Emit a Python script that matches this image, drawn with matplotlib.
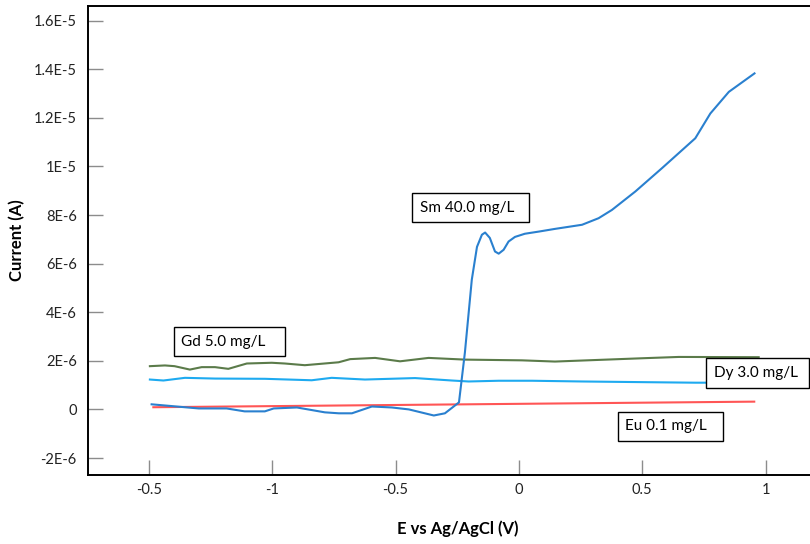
import matplotlib
matplotlib.use('Agg')
import matplotlib.pyplot as plt
from matplotlib import rcParams

rcParams.update({'font.family': ['Lato', 'DejaVu Sans'], 'font.size': 10})

# Potential positions (plot units) and current in A
sm_x = [-1.489, -1.298, -1.185, -1.112, -1.030, -0.994, -0.900, -0.787, -0.730,
        -0.677, -0.596, -0.515, -0.446, -0.345, -0.300, -0.243, -0.219, -0.191,
        -0.170, -0.150, -0.137, -0.118, -0.097, -0.082, -0.062, -0.042, -0.016,
        0.024, 0.081, 0.146, 0.256, 0.323, 0.377, 0.472, 0.580, 0.715, 0.776,
        0.851, 0.955]
sm_y = [0.21, 0.04, 0.04, -0.08, -0.08, 0.04, 0.08, -0.12, -0.16,
        -0.16, 0.12, 0.08, 0.0, -0.25, -0.16, 0.29, 2.34, 5.34,
        6.69, 7.19, 7.28, 7.06, 6.50, 6.41, 6.57, 6.91, 7.10,
        7.23, 7.32, 7.43, 7.60, 7.87, 8.21, 8.97, 9.93, 11.16, 12.18,
        13.07, 13.83]

gd_x = [-1.496, -1.435, -1.396, -1.334, -1.286, -1.232, -1.178, -1.103, -1.002,
        -0.949, -0.868, -0.731, -0.684, -0.583, -0.482, -0.366, -0.218, 0.012,
        0.146, 0.511, 0.648, 0.972]
gd_y = [1.78, 1.81, 1.78, 1.64, 1.74, 1.74, 1.67, 1.89, 1.92,
        1.89, 1.82, 1.94, 2.07, 2.12, 1.98, 2.12, 2.05, 2.02,
        1.97, 2.11, 2.16, 2.15]

dy_x = [-1.496, -1.441, -1.354, -1.232, -1.029, -0.840, -0.759, -0.624, -0.421,
        -0.272, -0.204, -0.082, 0.053, 0.256, 0.526, 0.715, 0.945]
dy_y = [1.23, 1.19, 1.30, 1.27, 1.26, 1.20, 1.30, 1.23, 1.29,
        1.19, 1.15, 1.18, 1.18, 1.15, 1.12, 1.10, 1.10]

eu_x = [-1.482, 0.954]
eu_y = [0.09, 0.32]

scale = 1e-6
x_ticks = [-1.5, -1.0, -0.5, 0.0, 0.5, 1.0]
x_tick_labels = ['-0.5', '-1', '-0.5', '0', '0.5', '1']
y_ticks = [-2e-6, 0, 2e-6, 4e-6, 6e-6, 8e-6, 1e-5, 1.2e-5, 1.4e-5, 1.6e-5]
y_tick_labels = ['-2E-6', '0', '2E-6', '4E-6', '6E-6', '8E-6', '1E-5',
                 '1.2E-5', '1.4E-5', '1.6E-5']

fig = plt.figure(figsize=(8.1, 5.44), dpi=100)
ax = fig.add_axes([0.1086, 0.1268, 0.8914, 0.862])

ax.plot(gd_x, [v * scale for v in gd_y], color='#5b7b4a', lw=1.5)
ax.plot(dy_x, [v * scale for v in dy_y], color='#1eaaf0', lw=1.5)
ax.plot(eu_x, [v * scale for v in eu_y], color='#ff5555', lw=1.5)
ax.plot(sm_x, [v * scale for v in sm_y], color='#2a80cf', lw=1.5)

ax.set_xlim(-1.747, 1.18)
ax.set_ylim(-2.7e-6, 1.66e-5)
ax.set_xticks(x_ticks, x_tick_labels)
ax.set_yticks(y_ticks, y_tick_labels)
ax.tick_params(direction='in', length=11, width=1, color='#8c8c8c',
               labelsize=10.5, labelcolor='#222222')
ax.tick_params(axis='y', pad=8)
ax.tick_params(axis='x', pad=6)
ax.spines['right'].set_visible(False)
for s in ('left', 'top', 'bottom'):
    ax.spines[s].set_linewidth(1.4)

ax.set_ylabel('Current (A)', fontsize=12, fontweight='bold', labelpad=6)
ax.set_xlabel('E vs Ag/AgCl (V)', fontsize=12, fontweight='bold')
ax.xaxis.set_label_coords(0.512, -0.096)

box = dict(boxstyle='square,pad=0.5', facecolor='white', edgecolor='black', lw=1)
ax.text(-0.403, 8.3e-6, 'Sm 40.0 mg/L  ', fontsize=11, va='center', bbox=box)
ax.text(-1.369, 2.79e-6, 'Gd 5.0 mg/L   ', fontsize=11, va='center', bbox=box)
ax.text(0.789, 1.50e-6, 'Dy 3.0 mg/L ', fontsize=11, va='center', bbox=box)
ax.text(0.432, -0.70e-6, 'Eu 0.1 mg/L  ', fontsize=11, va='center', bbox=box)

fig.savefig('out.png', dpi=100)
